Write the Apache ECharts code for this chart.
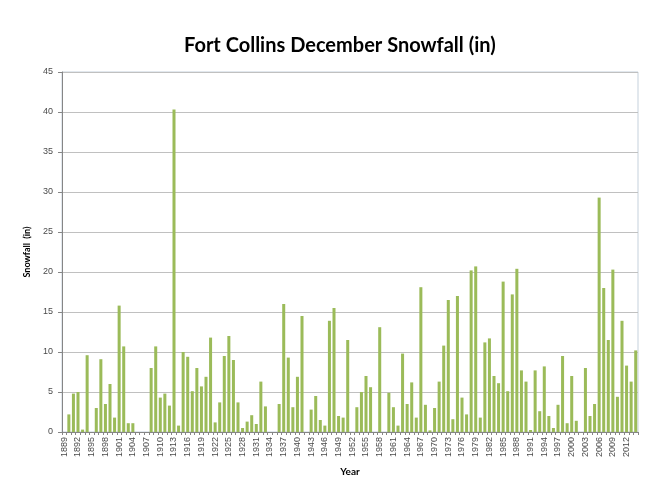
<!DOCTYPE html>
<html>
<head>
<meta charset="utf-8">
<script src="https://cdn.jsdelivr.net/npm/echarts@6/dist/echarts.min.js"></script>
<style>
html,body{margin:0;padding:0;background:#fff;}
#chart{width:657px;height:485px;}
</style>
</head>
<body>
<div id="chart"></div>
<script>
var startYear = 1889;
var endYear = 2014;
var years = [];
for (var y = startYear; y <= endYear; y++) { years.push(String(y)); }

var snowfall1889to1919 = [0, 2.2, 4.8, 5.0, 0.3, 9.6, 0, 3.0, 9.1, 3.5, 6.0, 1.8, 15.8, 10.7, 1.1, 1.1,
  0, 0, 0, 8.0, 10.7, 4.3, 4.8, 3.3, 40.3, 0.8, 10.0, 9.4, 5.1, 8.0, 5.7];
var snowfall1920to1949 = [6.9, 11.8, 1.2, 3.7, 9.5, 12.0, 9.0, 3.7, 0.5, 1.3, 2.1, 1.0, 6.3, 3.2, 0, 0,
  3.5, 16.0, 9.3, 3.1, 6.9, 14.5, 0, 2.8, 4.5, 1.5, 0.8, 13.9, 15.5, 2.0];
var snowfall1950to1979 = [1.8, 11.5, 0, 3.1, 5.0, 7.0, 5.6, 0, 13.1, 0, 4.9, 3.1, 0.8, 9.8, 3.5, 6.2,
  1.8, 18.1, 3.4, 0.2, 3.0, 6.3, 10.8, 16.5, 1.6, 17.0, 4.3, 2.2, 20.2, 20.7];
var snowfall1980to2014 = [1.8, 11.2, 11.7, 7.0, 6.1, 18.8, 5.1, 17.2, 20.4, 7.7, 6.3, 0.25, 7.7, 2.6, 8.2,
  2.0, 0.5, 3.4, 9.5, 1.1, 7.0, 1.4, 0, 8.0, 2.0, 3.5, 29.3, 18.0, 11.5, 20.3, 4.4, 13.9, 8.3, 6.3, 10.2];
var snowfall = snowfall1889to1919.concat(snowfall1920to1949, snowfall1950to1979, snowfall1980to2014);

var yTicks = [0, 5, 10, 15, 20, 25, 30, 35, 40, 45];

var chart = echarts.init(document.getElementById('chart'), null, {renderer: 'canvas'});
chart.setOption({
  backgroundColor: '#ffffff',
  animation: false,
  title: {
    text: 'Fort Collins December Snowfall (in)',
    left: 179,
    top: 31,
    textStyle: {fontFamily: 'Lato', fontWeight: 'bold', fontSize: 20, color: '#000000'}
  },
  grid: {
    left: 62, right: 19, top: 72, bottom: 53,
    show: true, borderColor: '#c5d1dc', borderWidth: 1, backgroundColor: 'transparent'
  },
  xAxis: {
    type: 'category',
    data: years,
    name: 'Year',
    nameLocation: 'middle',
    nameGap: 35,
    nameTextStyle: {fontFamily: 'Lato', fontWeight: 'bold', fontSize: 10, color: '#000'},
    axisLine: {lineStyle: {color: '#868686', width: 1}},
    axisTick: {show: true, interval: 0, length: 3, alignWithLabel: false, lineStyle: {color: '#868686'}},
    axisLabel: {interval: 2, rotate: 90, fontSize: 9, color: '#4a4a4a', fontFamily: 'Liberation Sans', margin: 5},
    splitLine: {show: false}
  },
  yAxis: {
    type: 'value',
    min: yTicks[0],
    max: yTicks[yTicks.length - 1],
    interval: 5,
    name: 'Snowfall  (in)',
    nameLocation: 'middle',
    nameGap: 24,
    nameTextStyle: {fontFamily: 'Lato', fontWeight: 'bold', fontSize: 9, color: '#000'},
    axisLine: {show: true, lineStyle: {color: '#868686', width: 1}},
    axisTick: {show: true, length: 4, lineStyle: {color: '#868686'}},
    axisLabel: {fontSize: 9, color: '#4a4a4a', fontFamily: 'Liberation Sans', margin: 9},
    splitLine: {show: true, lineStyle: {color: '#c0c0c0', width: 1}}
  },
  series: [{
    type: 'bar',
    data: snowfall,
    barCategoryGap: '34%',
    itemStyle: {color: '#9bbb59'}
  }]
});
</script>
</body>
</html>
